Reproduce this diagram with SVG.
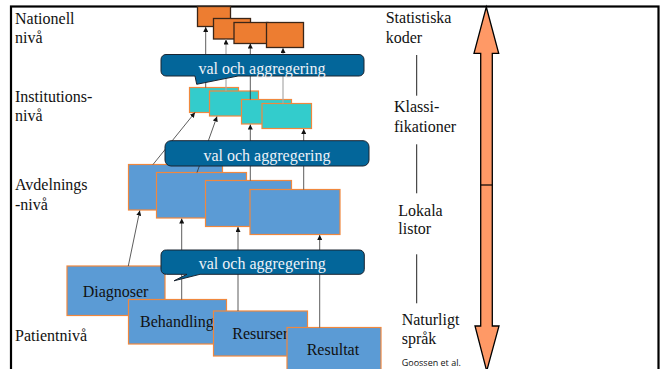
<svg xmlns="http://www.w3.org/2000/svg" width="667" height="369" viewBox="0 0 667 369">
<defs>
<style>
text{font-family:"Liberation Serif","DejaVu Serif",serif}
.lbl{font-family:"Liberation Serif","DejaVu Serif",serif;font-size:16px;fill:#111}
.cotext{font-family:"Liberation Serif","DejaVu Serif",serif;font-size:16px;fill:#eef2f8;text-anchor:middle}
.small{font-family:"Open Sans","Liberation Sans",sans-serif;font-size:9px;fill:#111}
.nat{fill:#ed7d31;stroke:#3a2618;stroke-width:1.3}
.inst{fill:#33cccc;stroke:#f0883e;stroke-width:1.2}
.avd{fill:#5b9bd5;stroke:#f0883e;stroke-width:1.2}
.co{fill:#03669a;stroke:#1b2430;stroke-width:1}
.cn{stroke:#333;stroke-width:0.8;fill:none;marker-end:url(#ah)}
.cg{stroke:#aaa;stroke-width:1.2;fill:none;marker-end:url(#ah)}
.sep{stroke:#222;stroke-width:1}
</style>
<marker id="ah" viewBox="0 0 10 10" refX="10" refY="5" markerWidth="5" markerHeight="5" orient="auto" markerUnits="userSpaceOnUse">
<path d="M0,0 L10,5 L0,10 z" fill="#111"/>
</marker>
</defs>
<rect width="667" height="369" fill="#fff"/>
<rect x="11" y="6.5" width="647.5" height="420" fill="none" stroke="#000" stroke-width="2.2"/>

<g id="level-labels">
<text class="lbl" style="font-family:'Liberation Serif',serif" x="15" y="24">Nationell</text>
<text class="lbl" style="font-family:'Liberation Serif',serif" x="15" y="43">nivå</text>
<text class="lbl" style="font-family:'Liberation Serif',serif" x="15" y="102">Institutions-</text>
<text class="lbl" style="font-family:'Liberation Serif',serif" x="15" y="121">nivå</text>
<text class="lbl" style="font-family:'Liberation Serif',serif" x="15" y="190">Avdelnings</text>
<text class="lbl" style="font-family:'Liberation Serif',serif" x="15" y="210">-nivå</text>
<text class="lbl" style="font-family:'Liberation Serif',serif" x="15" y="341">Patientnivå</text>
</g>

<g id="national">
<rect class="nat" x="197.5" y="6.5" width="33" height="20"/>
<rect class="nat" x="213.5" y="18.5" width="37" height="20.5"/>
<rect class="nat" x="234" y="22.5" width="34" height="21"/>
<rect class="nat" x="266.5" y="22.5" width="37" height="25"/>
</g>

<g id="institution">
<rect class="inst" x="189.5" y="87.5" width="49" height="25"/>
<rect class="inst" x="209.5" y="91" width="49" height="25"/>
<rect class="inst" x="241.5" y="99.5" width="50" height="24.5"/>
<rect class="inst" x="262" y="103.5" width="49.5" height="25"/>
</g>

<g id="department">
<rect class="avd" x="128.5" y="164.5" width="94" height="45.5"/>
<rect class="avd" x="156.5" y="172.5" width="90" height="45.5"/>
<rect class="avd" x="205.5" y="180.5" width="86" height="46"/>
<rect class="avd" x="250" y="189.5" width="90" height="45"/>
</g>

<g id="patient-diagnoser">
<rect class="avd" x="67" y="266" width="98" height="49.5"/>
<text class="lbl" style="font-family:'Liberation Serif',serif" x="82.7" y="296.7">Diagnoser</text>
</g>
<g id="patient-behandling">
<rect class="avd" x="128.5" y="299.5" width="98" height="44.5"/>
<text class="lbl" style="font-family:'Liberation Serif',serif" x="140" y="327.3">Behandling</text>
</g>
<g id="patient-resurser">
<rect class="avd" x="213.5" y="311" width="94" height="45"/>
<text class="lbl" style="font-family:'Liberation Serif',serif" x="232.3" y="339">Resurser</text>
</g>
<g id="patient-resultat">
<rect class="avd" x="287" y="327.5" width="94" height="50"/>
<text class="lbl" style="font-family:'Liberation Serif',serif" x="306.7" y="355">Resultat</text>
</g>

<g id="connectors">
<line class="cn" x1="205.7" y1="87.5" x2="205.7" y2="27"/>
<line class="cg" x1="226" y1="91" x2="226" y2="39.5"/>
<line class="cn" x1="250.3" y1="99.5" x2="250.3" y2="43.5"/>
<line class="cg" x1="283" y1="103.5" x2="283" y2="48"/>
<line class="cn" x1="153" y1="164.5" x2="195" y2="112.5"/>
<line class="cn" x1="197" y1="172.5" x2="217" y2="116.5"/>
<line class="cn" x1="250.3" y1="180.5" x2="250.3" y2="124.5"/>
<line class="cn" x1="303.7" y1="189.5" x2="303.7" y2="129"/>
<line class="cn" x1="128.3" y1="266" x2="139.8" y2="210.5"/>
<line class="cn" x1="181.7" y1="299.5" x2="181.7" y2="218.5"/>
<line class="cn" x1="238" y1="311" x2="238" y2="227"/>
<line class="cn" x1="319.7" y1="327.5" x2="319.7" y2="235"/>
</g>

<g id="callout-1">
<path class="co" d="M166,54.5 H359 A5,5 0 0 1 364,59.5 V71 A5,5 0 0 1 359,76 H238 L196.7,84.3 L195,76 H166 A5,5 0 0 1 161,71 V59.5 A5,5 0 0 1 166,54.5 Z"/>
<text class="cotext" style="font-family:'Liberation Serif',serif" x="262" y="73.5">val och aggregering</text>
</g>
<g id="callout-2">
<path class="co" d="M171,140.7 H363 A6,6 0 0 1 369,146.7 V160 A6,6 0 0 1 363,166 H171 A6,6 0 0 1 165,160 V146.7 A6,6 0 0 1 171,140.7 Z"/>
<text class="cotext" style="font-family:'Liberation Serif',serif" x="267" y="161">val och aggregering</text>
</g>
<g id="callout-3">
<path class="co" d="M166.5,250 H359 A5,5 0 0 1 364.3,255 V269.3 A5,5 0 0 1 359,274.3 H200 L174,280.8 L187,274.3 H166.5 A5,5 0 0 1 161,269.3 V255 A5,5 0 0 1 166.5,250 Z"/>
<text class="cotext" style="font-family:'Liberation Serif',serif" x="262.3" y="269.3">val och aggregering</text>
</g>

<g id="scale-labels">
<text class="lbl" style="font-family:'Liberation Serif',serif" x="385.7" y="23.3">Statistiska</text>
<text class="lbl" style="font-family:'Liberation Serif',serif" x="385.7" y="43.3">koder</text>
<line class="sep" x1="416.7" y1="55" x2="416.7" y2="95.7"/>
<text class="lbl" style="font-family:'Liberation Serif',serif" x="394" y="112.3">Klassi-</text>
<text class="lbl" style="font-family:'Liberation Serif',serif" x="394" y="132.3">fikationer</text>
<line class="sep" x1="416.7" y1="144.3" x2="416.7" y2="193.3"/>
<text class="lbl" style="font-family:'Liberation Serif',serif" x="398.3" y="215.7">Lokala</text>
<text class="lbl" style="font-family:'Liberation Serif',serif" x="398.3" y="234.3">listor</text>
<line class="sep" x1="416.7" y1="254.3" x2="416.7" y2="303.3"/>
<text class="lbl" style="font-family:'Liberation Serif',serif" x="401.7" y="325">Naturligt</text>
<text class="lbl" style="font-family:'Liberation Serif',serif" x="401.7" y="344.3">språk</text>
<text class="small" x="401.7" y="366">Goossen et al.</text>
</g>

<g id="scale-arrow">
<path d="M486.3,7 L498.7,53.3 H492.3 V326 H499 L486.7,371 L475,326 H480.7 V53.3 H474 Z" fill="#ff9966" stroke="#000" stroke-width="1.3" stroke-linejoin="miter"/>
<line x1="480.7" y1="185" x2="492.3" y2="185" stroke="#000" stroke-width="1.2"/>
</g>
</svg>
